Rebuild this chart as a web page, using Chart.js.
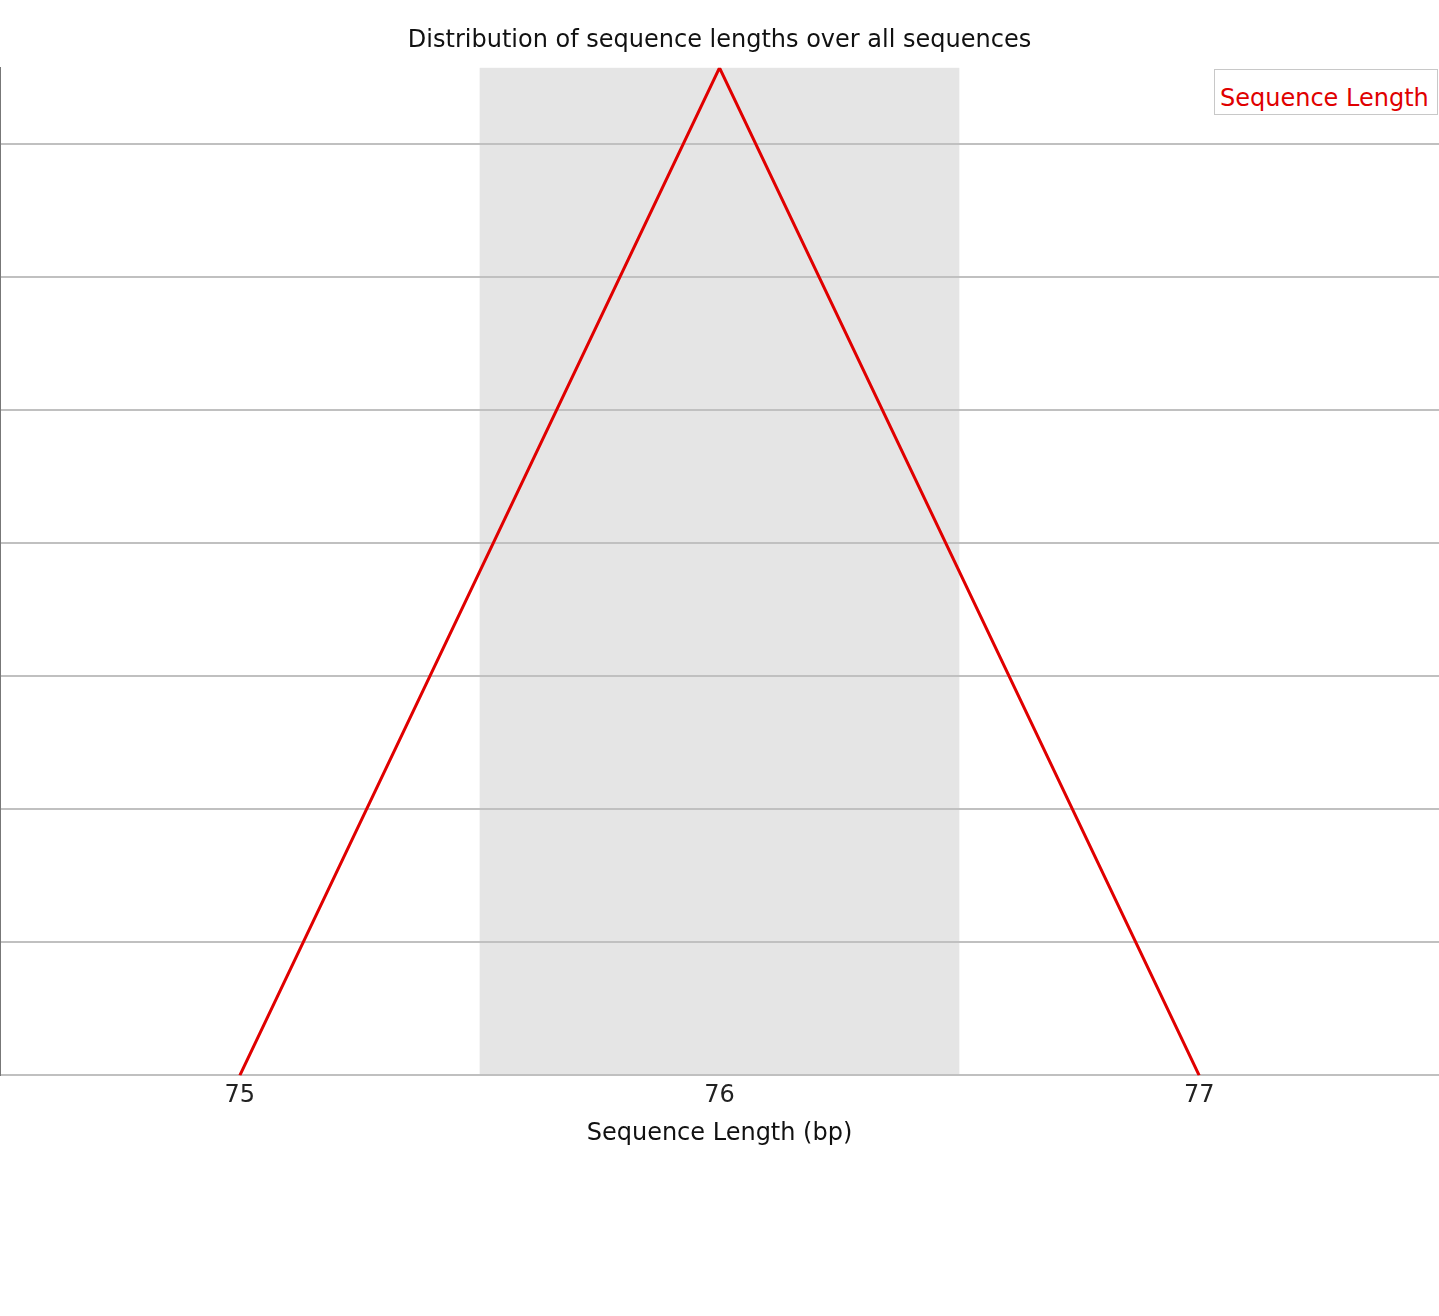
<!DOCTYPE html>
<html>
<head>
<meta charset="utf-8">
<title>Sequence Length Distribution</title>
<script src="https://cdn.jsdelivr.net/npm/chart.js@4.4.0/dist/chart.umd.min.js"></script>
<style>
  html, body { margin: 0; padding: 0; background: #fff; }
  #wrap { position: relative; width: 1439px; height: 1316px; }
  #legendBox {
    position: absolute; left: 1214px; top: 69px; width: 224px; height: 46px;
    border: 1px solid #c8c8c8; background: #fff; box-sizing: border-box;
    font-family: 'DejaVu Sans', sans-serif; font-size: 24px; color: #e00000;
    padding: 13px 0 0 5px; line-height: 30px; white-space: nowrap;
  }
</style>
</head>
<body>
<div id="wrap">
  <canvas id="myChartLength"></canvas>
  <div id="legendBox">Sequence Length</div>
</div>
<script>
// Datos
const seqLengths = ['75', '76', '77'];
const seqCounts = [0, 15150000, 0];
const shadedLengths = ['76']; // columnas sombreadas (alternas)
const gridStep = 2000000;

const FONT = "'DejaVu Sans', 'Verdana', sans-serif";

// Franja gris detrás de la cuadrícula
const shadePlugin = {
    id: 'shadeBands',
    beforeDraw(chart) {
        const { ctx, chartArea, scales } = chart;
        const x = scales.x;
        const half = (x.getPixelForValue(1) - x.getPixelForValue(0)) / 2;
        ctx.save();
        ctx.fillStyle = '#e5e5e5';
        shadedLengths.forEach(lbl => {
            const idx = seqLengths.indexOf(lbl);
            const cx = x.getPixelForValue(idx);
            ctx.fillRect(cx - half, chartArea.top, half * 2, chartArea.bottom - chartArea.top);
        });
        ctx.restore();
    }
};

const ctxLength = document.getElementById('myChartLength').getContext('2d');
const myChartLength = new Chart(ctxLength, {
    type: 'line',
    data: {
        labels: seqLengths,
        datasets: [{
            label: 'Sequence Length',
            data: seqCounts,
            borderColor: '#e00000',
            borderWidth: 3,
            pointRadius: 0,
            tension: 0,
            fill: false
        }]
    },
    plugins: [shadePlugin],
    options: {
        responsive: true,
        maintainAspectRatio: false,
        animation: false,
        layout: { padding: { left: 0, right: 0, top: 0, bottom: 168 } },
        plugins: {
            legend: { display: false },
            tooltip: { enabled: false },
            title: {
                display: true,
                text: 'Distribution of sequence lengths over all sequences',
                color: '#111',
                font: { size: 24, weight: 'normal', family: FONT },
                padding: { top: 26, bottom: 13 }
            }
        },
        scales: {
            x: {
                offset: true,
                grid: { display: false, drawTicks: false },
                border: { color: '#c0c0c0', width: 2 },
                ticks: {
                    color: '#222',
                    padding: 6,
                    font: { size: 24, family: FONT }
                },
                title: {
                    display: true,
                    text: 'Sequence Length (bp)',
                    color: '#111',
                    font: { size: 24, family: FONT },
                    padding: { top: 3, bottom: 0 }
                }
            },
            y: {
                min: 0,
                max: Math.max(...seqCounts),
                ticks: { display: false },
                afterBuildTicks: (axis) => {
                    // solo múltiplos del paso, sin línea en el máximo
                    const t = [];
                    for (let v = 0; v < axis.max; v += gridStep) t.push({ value: v });
                    axis.ticks = t;
                },
                grid: { color: '#c0c0c0', lineWidth: 2, drawTicks: false },
                border: { color: '#777', width: 2 }
            }
        }
    }
});
</script>
</body>
</html>
